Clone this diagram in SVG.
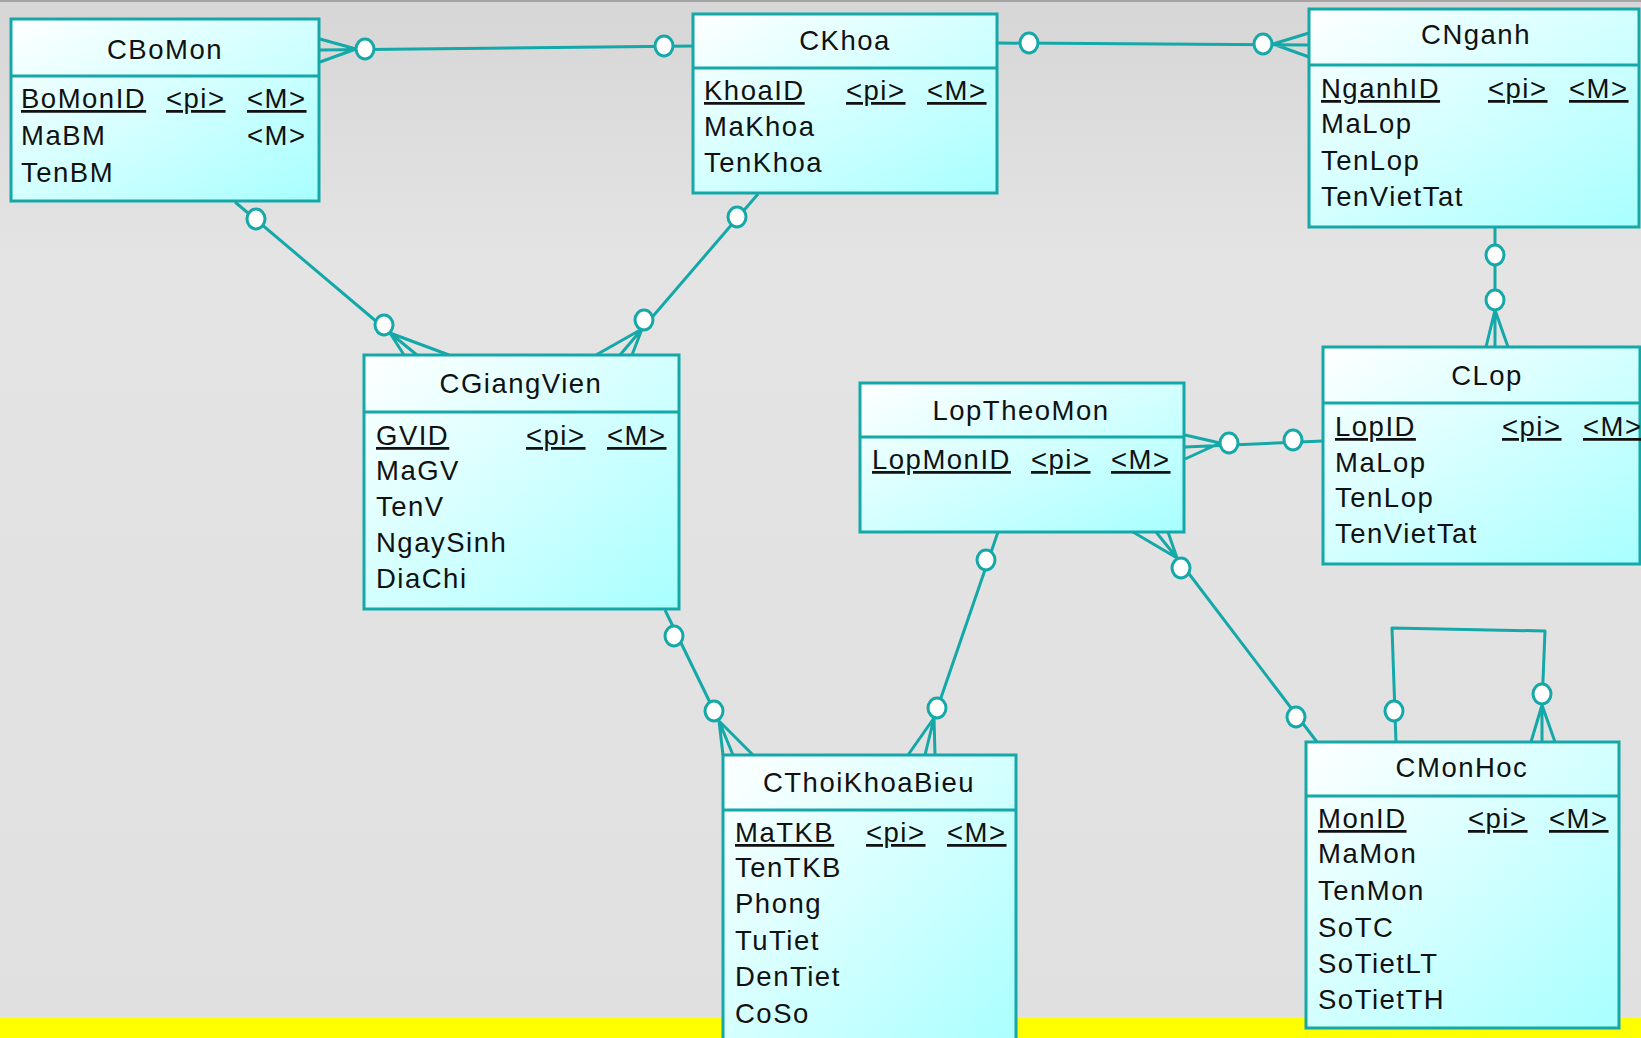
<svg xmlns="http://www.w3.org/2000/svg" width="1641" height="1038" viewBox="0 0 1641 1038">
  <defs>
    <linearGradient id="bg" x1="0" y1="0" x2="0" y2="1">
      <stop offset="0" stop-color="#d6d6d6"/>
      <stop offset="0.25" stop-color="#e4e4e4"/>
      <stop offset="1" stop-color="#e0e0e0"/>
    </linearGradient>
    <linearGradient id="boxFill" x1="0" y1="0" x2="1" y2="1">
      <stop offset="0" stop-color="#ffffff"/>
      <stop offset="1" stop-color="#a8ffff"/>
    </linearGradient>
    <style>
      .box { fill: url(#boxFill); stroke: #14a8a8; stroke-width: 3; }
      .sep { stroke: #14a8a8; stroke-width: 3; }
      text { font-family: "Liberation Sans", Arial, sans-serif; font-size: 27.5px; letter-spacing: 1.5px; fill: #111; }
      .title { text-anchor: middle; }
      .u { text-decoration: underline; }
      .link { fill: none; stroke: #14a8a8; stroke-width: 3; stroke-linejoin: round; }
      .opt { fill: #ffffff; stroke: #14a8a8; stroke-width: 3; }
    </style>
  </defs>

  <!-- backdrop -->
  <rect x="0" y="0" width="1641" height="1038" fill="url(#bg)"/>
  <rect x="0" y="0" width="1641" height="2" fill="#a4a4a4"/>
  <rect x="0" y="1017" width="1641" height="21" fill="#ffff00"/>

  <!-- relationships -->
  <g id="connectors">
    <!-- CBoMon (many) to CKhoa -->
    <path class="link" d="M320,50 L693,46 M320,39 L356,49 L320,62"/>
    <ellipse class="opt" cx="365" cy="49" rx="9" ry="10"/>
    <ellipse class="opt" cx="664" cy="46" rx="9" ry="10"/>

    <!-- CKhoa to CNganh (many) -->
    <path class="link" d="M997,43 L1309,45 M1309,33 L1273,44 L1309,57"/>
    <ellipse class="opt" cx="1029" cy="43" rx="9" ry="10"/>
    <ellipse class="opt" cx="1263" cy="44" rx="9" ry="10"/>

    <!-- CBoMon to CGiangVien (many) -->
    <path class="link" d="M235,202 L390,333 M404,355 L390,333 L417,355 M390,333 L449,355"/>
    <ellipse class="opt" cx="256" cy="219" rx="9" ry="10"/>
    <ellipse class="opt" cx="384" cy="325" rx="9" ry="10"/>

    <!-- CKhoa to CGiangVien (many) -->
    <path class="link" d="M758,194 L642,329 M596,355 L642,329 L620,355 M642,329 L632,355"/>
    <ellipse class="opt" cx="737" cy="217" rx="9" ry="10"/>
    <ellipse class="opt" cx="644" cy="320" rx="9" ry="10"/>

    <!-- CNganh to CLop (many) -->
    <path class="link" d="M1495,227 L1495,347 M1486,347 L1495,310 L1508,347"/>
    <ellipse class="opt" cx="1495" cy="255" rx="9" ry="10"/>
    <ellipse class="opt" cx="1495" cy="300" rx="9" ry="10"/>

    <!-- LopTheoMon (many) to CLop -->
    <path class="link" d="M1185,447 L1323,441 M1185,435 L1220,443 L1185,459"/>
    <ellipse class="opt" cx="1229" cy="443" rx="9" ry="10"/>
    <ellipse class="opt" cx="1293" cy="440" rx="9" ry="10"/>

    <!-- LopTheoMon to CThoiKhoaBieu (many) -->
    <path class="link" d="M998,532 L934,718 M908,755 L934,718 L925,755 M934,718 L935,755"/>
    <ellipse class="opt" cx="986" cy="560" rx="9" ry="10"/>
    <ellipse class="opt" cx="937" cy="708" rx="9" ry="10"/>

    <!-- CGiangVien to CThoiKhoaBieu (many) -->
    <path class="link" d="M665,610 L719,721 M723,755 L719,721 L733,755 M719,721 L753,755"/>
    <ellipse class="opt" cx="674" cy="636" rx="9" ry="10"/>
    <ellipse class="opt" cx="714" cy="711" rx="9" ry="10"/>

    <!-- LopTheoMon (many) to CMonHoc -->
    <path class="link" d="M1177,558 L1317,742 M1133,532 L1177,558 L1156,532 M1177,558 L1168,532"/>
    <ellipse class="opt" cx="1181" cy="568" rx="9" ry="10"/>
    <ellipse class="opt" cx="1296" cy="717" rx="9" ry="10"/>

    <!-- CMonHoc recursive link -->
    <path class="link" d="M1396,742 L1392,628 L1545,631 L1542,705 M1531,742 L1542,705 L1555,742 M1542,705 L1542,742"/>
    <ellipse class="opt" cx="1394" cy="711" rx="9" ry="10"/>
    <ellipse class="opt" cx="1542" cy="694" rx="9" ry="10"/>
  </g>

  <!-- entities -->
  <g id="CBoMon">
    <rect class="box" x="11" y="19" width="308" height="182"/>
    <line class="sep" x1="11" y1="76" x2="319" y2="76"/>
    <text class="title" x="165" y="59">CBoMon</text>
    <text class="u" x="21" y="108">BoMonID</text>
    <text class="u" x="166" y="108">&lt;pi&gt;</text>
    <text class="u" x="247" y="108">&lt;M&gt;</text>
    <text x="21" y="145">MaBM</text>
    <text x="247" y="145">&lt;M&gt;</text>
    <text x="21" y="182">TenBM</text>
  </g>

  <g id="CKhoa">
    <rect class="box" x="693" y="14" width="304" height="179"/>
    <line class="sep" x1="693" y1="68" x2="997" y2="68"/>
    <text class="title" x="845" y="50">CKhoa</text>
    <text class="u" x="704" y="100">KhoaID</text>
    <text class="u" x="846" y="100">&lt;pi&gt;</text>
    <text class="u" x="927" y="100">&lt;M&gt;</text>
    <text x="704" y="136">MaKhoa</text>
    <text x="704" y="172">TenKhoa</text>
  </g>

  <g id="CNganh">
    <rect class="box" x="1309" y="9" width="330" height="218"/>
    <line class="sep" x1="1309" y1="65" x2="1639" y2="65"/>
    <text class="title" x="1476" y="44">CNganh</text>
    <text class="u" x="1321" y="98">NganhID</text>
    <text class="u" x="1488" y="98">&lt;pi&gt;</text>
    <text class="u" x="1569" y="98">&lt;M&gt;</text>
    <text x="1321" y="133">MaLop</text>
    <text x="1321" y="170">TenLop</text>
    <text x="1321" y="206">TenVietTat</text>
  </g>

  <g id="CGiangVien">
    <rect class="box" x="364" y="355" width="315" height="254"/>
    <line class="sep" x1="364" y1="412" x2="679" y2="412"/>
    <text class="title" x="521" y="393">CGiangVien</text>
    <text class="u" x="376" y="445">GVID</text>
    <text class="u" x="526" y="445">&lt;pi&gt;</text>
    <text class="u" x="607" y="445">&lt;M&gt;</text>
    <text x="376" y="480">MaGV</text>
    <text x="376" y="516">TenV</text>
    <text x="376" y="552">NgaySinh</text>
    <text x="376" y="588">DiaChi</text>
  </g>

  <g id="LopTheoMon">
    <rect class="box" x="860" y="383" width="324" height="149"/>
    <line class="sep" x1="860" y1="437" x2="1184" y2="437"/>
    <text class="title" x="1021" y="420">LopTheoMon</text>
    <text class="u" x="872" y="469">LopMonID</text>
    <text class="u" x="1031" y="469">&lt;pi&gt;</text>
    <text class="u" x="1111" y="469">&lt;M&gt;</text>
  </g>

  <g id="CLop">
    <rect class="box" x="1323" y="347" width="317" height="217"/>
    <line class="sep" x1="1323" y1="403" x2="1640" y2="403"/>
    <text class="title" x="1487" y="385">CLop</text>
    <text class="u" x="1335" y="436">LopID</text>
    <text class="u" x="1502" y="436">&lt;pi&gt;</text>
    <text class="u" x="1583" y="436">&lt;M&gt;</text>
    <text x="1335" y="472">MaLop</text>
    <text x="1335" y="507">TenLop</text>
    <text x="1335" y="543">TenVietTat</text>
  </g>

  <g id="CThoiKhoaBieu">
    <rect class="box" x="723" y="755" width="293" height="300"/>
    <line class="sep" x1="723" y1="810" x2="1016" y2="810"/>
    <text class="title" x="869" y="792">CThoiKhoaBieu</text>
    <text class="u" x="735" y="842">MaTKB</text>
    <text class="u" x="866" y="842">&lt;pi&gt;</text>
    <text class="u" x="947" y="842">&lt;M&gt;</text>
    <text x="735" y="877">TenTKB</text>
    <text x="735" y="913">Phong</text>
    <text x="735" y="950">TuTiet</text>
    <text x="735" y="986">DenTiet</text>
    <text x="735" y="1023">CoSo</text>
  </g>

  <g id="CMonHoc">
    <rect class="box" x="1306" y="742" width="313" height="286"/>
    <line class="sep" x1="1306" y1="796" x2="1619" y2="796"/>
    <text class="title" x="1462" y="777">CMonHoc</text>
    <text class="u" x="1318" y="828">MonID</text>
    <text class="u" x="1468" y="828">&lt;pi&gt;</text>
    <text class="u" x="1549" y="828">&lt;M&gt;</text>
    <text x="1318" y="863">MaMon</text>
    <text x="1318" y="900">TenMon</text>
    <text x="1318" y="937">SoTC</text>
    <text x="1318" y="973">SoTietLT</text>
    <text x="1318" y="1009">SoTietTH</text>
  </g>
</svg>
